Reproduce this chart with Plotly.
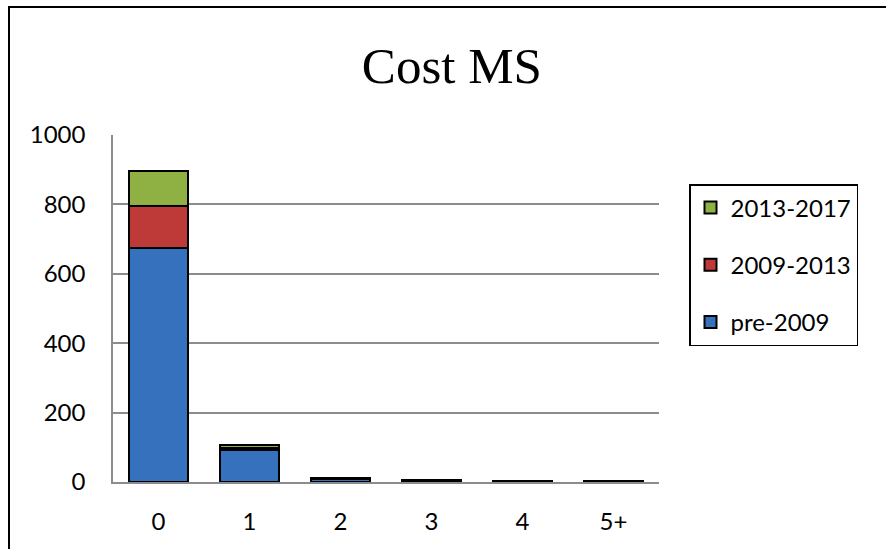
import plotly.graph_objects as go

# Number of cost items per category, stacked by period
categories = ["0", "1", "2", "3", "4", "5+"]
pre_2009 = [674, 91, 10, 4, 2, 2]
p2009_2013 = [120, 8, 1, 0.5, 0, 0]
p2013_2017 = [101, 7, 1, 0.5, 0, 0]

y_ticks = [0, 200, 400, 600, 800, 1000]

# (legend label, values, fill colour, legend rank)
series = [
    ("pre-2009", pre_2009, "#3571BC", 3),
    ("2009-2013", p2009_2013, "#BE3A38", 2),
    ("2013-2017", p2013_2017, "#8FB144", 1),
]

W, H = 886, 549
L, R, T, B = 113, 659, 135, 482

fig = go.Figure()
for name, vals, color, rank in series:
    fig.add_trace(go.Bar(
        x=categories, y=vals, name=name, legendgroup=name, legendrank=rank,
        marker=dict(color=color, line=dict(color="black", width=2)),
    ))

tick_font = dict(family="Lato, Carlito, Calibri, sans-serif", size=24, color="black")

fig.update_layout(
    width=W, height=H,
    margin=dict(l=L, r=W - R, t=T, b=H - B, pad=0),
    paper_bgcolor="white", plot_bgcolor="white",
    barmode="stack", bargap=0.35,
    title=dict(text="Cost MS", x=0.51, xanchor="center", y=(H - 65) / H, yanchor="middle",
               font=dict(family="Liberation Serif, Times New Roman, serif", size=51, color="black")),
    xaxis=dict(type="category", showgrid=False, showline=True, linecolor="#8c8c8c", linewidth=1.5,
               ticks="", tickfont=tick_font, ticklabelstandoff=17),
    yaxis=dict(range=[0, 1000], tickvals=y_ticks, showgrid=True, gridcolor="#8c8c8c", gridwidth=1.5,
               showline=True, linecolor="#8c8c8c", linewidth=1.5, zeroline=False,
               ticks="", tickfont=tick_font, ticklabelstandoff=21),
    legend=dict(x=(689 - L) / (R - L), xanchor="left", y=(B - 184) / (B - T), yanchor="top",
                traceorder="grouped", tracegroupgap=23, entrywidth=135,
                bordercolor="black", borderwidth=1.5, bgcolor="white",
                font=dict(family="Lato, Carlito, Calibri, sans-serif", size=24, color="black")),
    showlegend=True,
)

# outer chart frame
fig.add_shape(type="rect", xref="paper", yref="paper",
              x0=(9 - L) / (R - L), x1=(W + 20 - L) / (R - L),
              y0=(B - (H + 20)) / (B - T), y1=(B - 7) / (B - T),
              line=dict(color="black", width=2), fillcolor="rgba(0,0,0,0)", layer="below")

fig.write_html("out.html")
